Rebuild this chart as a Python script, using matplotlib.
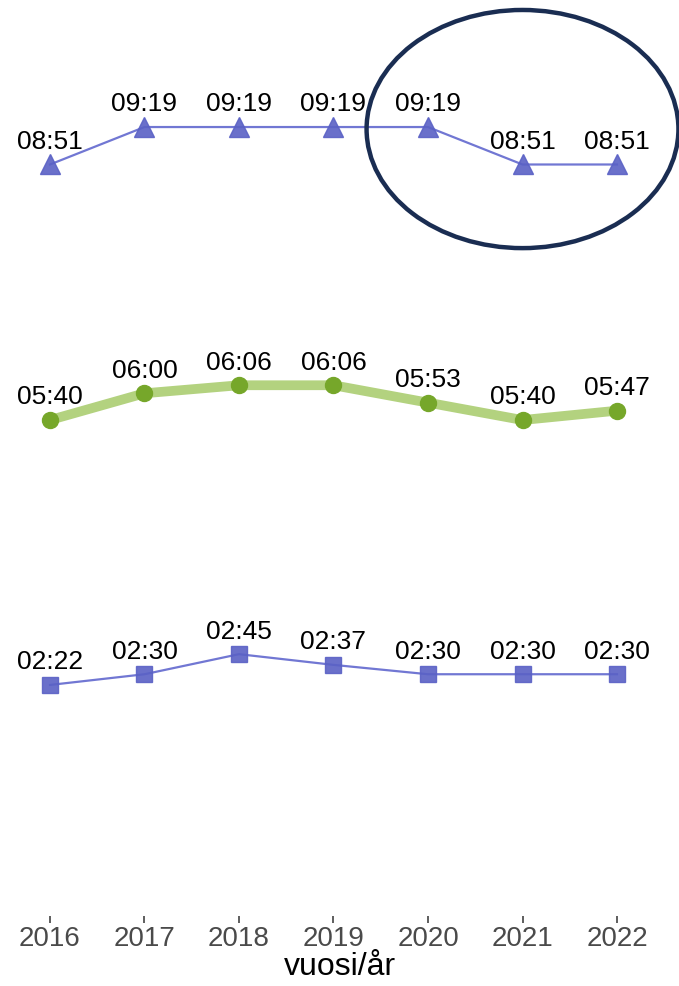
import matplotlib.pyplot as plt
from matplotlib.patches import Ellipse

years = [2016, 2017, 2018, 2019, 2020, 2021, 2022]
top_times = ["08:51", "09:19", "09:19", "09:19", "09:19", "08:51", "08:51"]
mid_times = ["05:40", "06:00", "06:06", "06:06", "05:53", "05:40", "05:47"]
bot_times = ["02:22", "02:30", "02:45", "02:37", "02:30", "02:30", "02:30"]
xlabel = "vuosi/år"


def to_min(t):
    h, m = t.split(":")
    return int(h) * 60 + int(m)


plt.rcParams['font.family'] = ['Liberation Sans', 'DejaVu Sans']

fig = plt.figure(figsize=(6.79, 9.87), dpi=100)
ax = fig.add_axes([0, 70 / 987, 1, 917 / 987])

blue_line = '#7177d3'
blue_mark = '#5a61c5'
green_line = '#b3d27f'
green_mark = '#76a72a'

# top series (triangles)
ax.plot(years, [to_min(t) for t in top_times], color=blue_line, lw=1.6, zorder=2)
ax.plot(years, [to_min(t) for t in top_times], ls='none', marker='^', ms=15,
        color=blue_mark, alpha=0.9, zorder=3)

# middle series (thick green)
ax.plot(years, [to_min(t) for t in mid_times], color=green_line, lw=7,
        solid_capstyle='round', zorder=2)
ax.plot(years, [to_min(t) for t in mid_times], ls='none', marker='o', ms=11.5,
        color=green_mark, zorder=3)

# bottom series (squares)
ax.plot(years, [to_min(t) for t in bot_times], color=blue_line, lw=1.6, zorder=2)
ax.plot(years, [to_min(t) for t in bot_times], ls='none', marker='s', ms=11.5,
        color=blue_mark, alpha=0.9, zorder=3)

for series in (top_times, mid_times, bot_times):
    for x, t in zip(years, series):
        ax.annotate(t, (x, to_min(t)), xytext=(0, 12), textcoords='offset points',
                    ha='center', va='baseline', fontsize=19, color='black')

# highlight ellipse
ell = Ellipse((2021.0, 557.5), width=3.3, height=178, fill=False,
              edgecolor='#1a2d52', lw=3.2, zorder=4, clip_on=False)
ax.add_patch(ell)

ax.set_xlim(2015.471, 2022.656)
ax.set_ylim(-30.7, 654.7)
ax.set_xticks(years)
ax.set_xticklabels([str(y) for y in years], fontsize=20, color='#4a4a4a')
ax.tick_params(axis='x', length=5, width=1.1, color='#333333', pad=1.5)
ax.set_yticks([])
ax.set_xlabel(xlabel, fontsize=23, color='black', labelpad=0)
for s in ax.spines.values():
    s.set_visible(False)

fig.savefig('out.png', dpi=100)
